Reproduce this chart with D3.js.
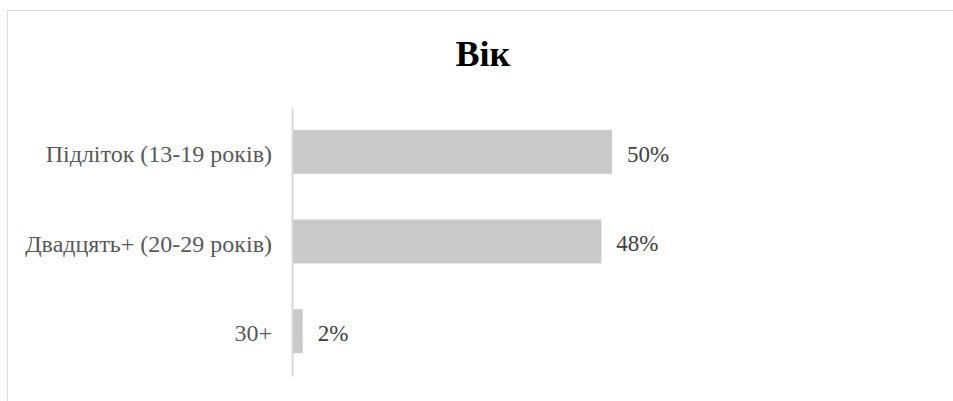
<!DOCTYPE html>
<html><head><meta charset="utf-8">
<script src="https://cdn.jsdelivr.net/npm/d3@7"></script>
<style>html,body{margin:0;padding:0;background:#fff;}svg{display:block;}
svg text{font-family:'Liberation Serif','Times New Roman',serif;}</style>
</head><body>
<svg id="chart" width="953" height="401"></svg>
<script>
const categories = ["Підліток (13-19 років)", "Двадцять+ (20-29 років)", "30+"];
const values = [0.5, 0.4833, 0.0167];
const valueLabels = ["50%", "48%", "2%"];
const title = "Вік";

const svg = d3.select("#chart");
const W = 953, H = 401;
const font = "'Liberation Serif','Times New Roman',serif";

svg.append("rect").attr("x", 7.5).attr("y", 10.5).attr("width", W).attr("height", H)
  .attr("fill", "#fff").attr("stroke", "#d9d9d9").attr("stroke-width", 1);

svg.append("text").attr("x", 483).attr("y", 65.5).attr("text-anchor", "middle")
  .style("font-family", font).attr("font-weight", "bold").attr("font-size", 36)
  .attr("fill", "#000").text(title);

const x = d3.scaleLinear().domain([0, 0.6]).range([292, 676]);
const y = d3.scaleBand().domain(categories).range([107, 376]).paddingInner(0.51).paddingOuter(0.255);

svg.selectAll("rect.bar").data(values).enter().append("rect").attr("class", "bar")
  .attr("x", x(0)).attr("y", (d, i) => y(categories[i]))
  .attr("width", d => x(d) - x(0)).attr("height", y.bandwidth())
  .attr("fill", "#c9c9c9");

const axis = d3.axisLeft(y).tickSize(0).tickPadding(20);
const g = svg.append("g").attr("transform", `translate(${x(0)},0)`).call(axis)
  .attr("font-family", null).attr("font-size", null);
g.select(".domain").attr("stroke", "#d9d9d9").attr("stroke-width", 2);
g.selectAll("text").style("font-family", font).style("font-size", "24px").attr("fill", "#595959")
  .attr("dy", "0.42em");

svg.selectAll("text.val").data(values).enter().append("text").attr("class", "val")
  .attr("x", d => x(d) + 15).attr("y", (d, i) => y(categories[i]) + y.bandwidth() / 2)
  .attr("dy", "0.43em").style("font-family", font).style("font-size", "23px").attr("fill", "#404040")
  .text((d, i) => valueLabels[i]);
</script>
</body></html>
